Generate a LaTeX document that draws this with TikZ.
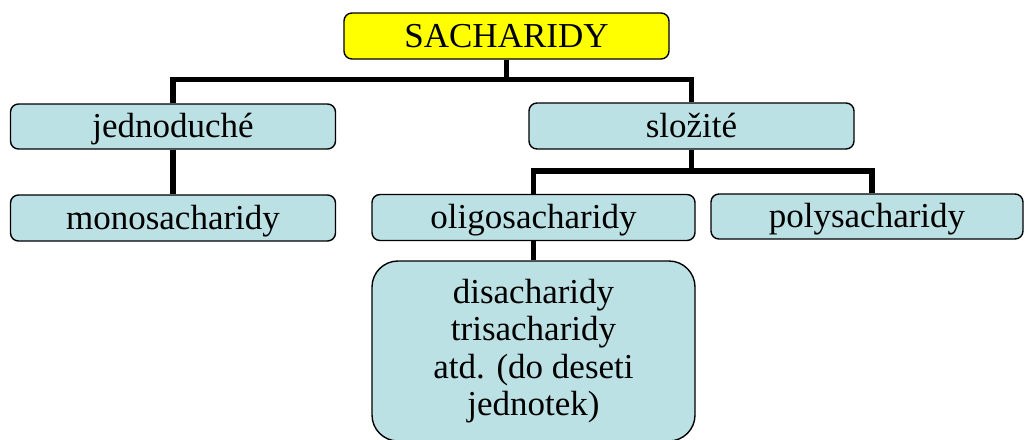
\documentclass[tikz,border=0pt]{standalone}
\usepackage{fontspec}
\setmainfont{Liberation Serif}
\definecolor{boxblue}{HTML}{BCE1E4}
\definecolor{boxyellow}{HTML}{FFFF00}
\begin{document}
\begin{tikzpicture}[x=1pt,y=-1pt,
  box/.style={draw=black, line width=1.4pt, fill=boxblue, rounded corners=8pt,
    inner sep=0pt, font=\fontsize{35}{37.4}\selectfont},
  onel/.style={text height=30pt, text depth=8pt},
  link/.style={line width=5.5pt, draw=black}]
\clip (0,0) rectangle (1025,439);
\useasboundingbox (0,0) rectangle (1025,439);
\node[box, onel, fill=boxyellow, minimum width=325, minimum height=46] (sach) at (506.5,36) {SACHARIDY};
\node[box, onel, minimum width=325, minimum height=45] (jedn) at (173,126.5) {jednoduché};
\node[box, onel, minimum width=325, minimum height=46] (slozite) at (691.5,126) {složité};
\node[box, onel, minimum width=325, minimum height=46] (mono) at (173,218) {monosacharidy};
\node[box, onel, minimum width=323, minimum height=46] (oligo) at (533.5,217.5) {oligosacharidy};
\node[box, onel, minimum width=312, minimum height=45] (poly) at (867,216.5) {polysacharidy};
\node[box, rounded corners=26pt, minimum width=323, minimum height=180, align=center] (big) at (533.5,351)
  {disacharidy\\trisacharidy\\atd. (do deseti\\jednotek)};
\draw[link] (sach.south) -- ++(0,21);
\draw[link] (jedn.north) -- ++(0,-24) -| (slozite.north);
\draw[link] (jedn.south) -- (mono.north);
\draw[link] (slozite.south) -- ++(0,22);
\draw[link] (oligo.north) -- ++(0,-23) -| ([xshift=5pt]poly.north);
\draw[link] (oligo.south) -- (big.north);
\end{tikzpicture}
\end{document}
